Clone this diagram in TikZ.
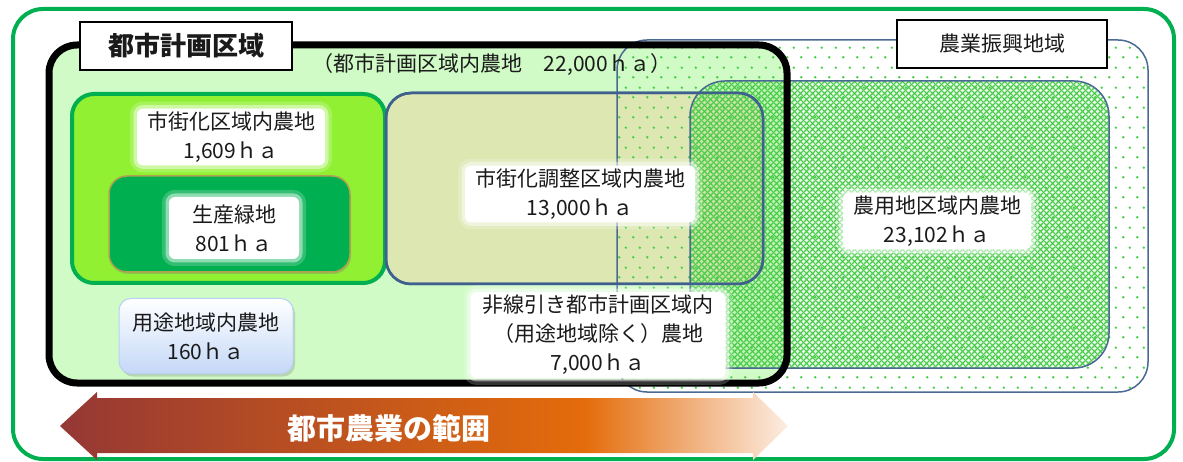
\documentclass[tikz,border=0pt]{standalone}
\usepackage{fontspec}
\setmainfont{Noto Sans CJK JP}
\usepackage{tikz}
\usetikzlibrary{patterns.meta,shadows}
\definecolor{framegreen}{HTML}{00B050}
\definecolor{citybg}{HTML}{D0FAC6}
\definecolor{urbanfill}{HTML}{92F032}
\definecolor{prodedge}{HTML}{B0A24E}
\definecolor{adjustfill}{HTML}{DCE7B2}
\definecolor{adjustedge}{HTML}{3F5F8F}
\definecolor{regionline}{HTML}{4A6A94}
\definecolor{dotgreen}{HTML}{46D046}
\definecolor{meshgreen}{HTML}{4ACC4A}
\definecolor{zonetop}{HTML}{FFFFFF}
\definecolor{zonebottom}{HTML}{C4D8F8}
\definecolor{zoneedge}{HTML}{B8D2F4}
\definecolor{inkgray}{HTML}{1A1A1A}
\definecolor{scopered}{HTML}{953735}
\definecolor{scopeorange}{HTML}{E46C0A}
\definecolor{scopefade}{HTML}{FCEDE2}

\pgfdeclarehorizontalshading{scopeshade}{100bp}{color(0bp)=(scopered); color(25bp)=(scopered);
  color(61bp)=(scopeorange); color(75bp)=(scopefade); color(100bp)=(scopefade)}

\tikzdeclarepattern{
  name=farmdots, type=uncolored,
  bounding box={(0pt,0pt) and (14pt,20pt)},
  tile size={(14pt,20pt)},
  code={
    \pgfpathcircle{\pgfpoint{3.5pt}{5pt}}{1.4pt}
    \pgfpathcircle{\pgfpoint{10.5pt}{15pt}}{1.4pt}
    \pgfusepath{fill}
  }
}
\tikzdeclarepattern{
  name=farmmesh, type=uncolored,
  bounding box={(0pt,0pt) and (6pt,6pt)},
  tile size={(6pt,6pt)},
  code={
    \pgfsetlinewidth{1.3pt}
    \pgfpathmoveto{\pgfpoint{-1pt}{-1pt}}\pgfpathlineto{\pgfpoint{7pt}{7pt}}
    \pgfpathmoveto{\pgfpoint{-1pt}{7pt}}\pgfpathlineto{\pgfpoint{7pt}{-1pt}}
    \pgfusepath{stroke}
  }
}

\begin{document}
\begin{tikzpicture}[x=1pt, y=-1pt,
  lbl/.style={font=\fontsize{21}{29}\selectfont, text=inkgray, align=center},
  glow/.style={lbl, fill=white, rounded corners=6pt, inner xsep=10pt, inner ysep=3pt,
               preaction={draw=white, line width=14pt, draw opacity=0.2},
               preaction={draw=white, line width=7pt, draw opacity=0.45}},
  tag/.style={draw=black, fill=white, inner sep=0pt, text=inkgray},
]
\useasboundingbox (0,0) rectangle (1183,462);

% outer frame
\draw[framegreen, line width=4pt, rounded corners=30pt] (13,9) rectangle (1174,459);

% city planning area and the zones inside it
\fill[citybg, rounded corners=28pt] (49,45) rectangle (787,383);
\draw[framegreen, fill=urbanfill, line width=4pt, rounded corners=22pt] (72,94) rectangle (385,283);
\draw[prodedge, fill=framegreen, line width=1.5pt, rounded corners=18pt,
      drop shadow={opacity=0.35, shadow xshift=1pt, shadow yshift=-2pt}] (109,176) rectangle (350,272);
\draw[adjustedge, fill=adjustfill, line width=2.5pt, rounded corners=25pt] (386,93) rectangle (763,284);

% agricultural promotion area and farmland area
\draw[regionline, line width=1.5pt, rounded corners=30pt, pattern=farmdots, pattern color=dotgreen]
  (617,40) rectangle (1148,392);
\fill[meshgreen, fill opacity=0.12, rounded corners=35pt] (690,81) rectangle (1109,368);
\draw[regionline, line width=1.5pt, rounded corners=35pt, pattern=farmmesh, pattern color=meshgreen]
  (690,81) rectangle (1109,368);
\draw[adjustedge, line width=2.5pt, rounded corners=25pt] (386,93) rectangle (763,284);
\draw[black, line width=7pt, rounded corners=28pt] (49,45) rectangle (787,383);

% labels
\node[tag, line width=2pt, minimum width=212pt, minimum height=48pt,
      font=\bfseries\fontsize{26}{30}\selectfont] (citytag) at (186,46) {都市計画区域};
\node[tag, line width=1.2pt, minimum width=210pt, minimum height=48pt,
      font=\fontsize{21}{26}\selectfont] (promotag) at (1002,44) {農業振興地域};
\node[lbl] (citytotal) at (492,65) {（都市計画区域内農地　22,000ｈａ）};
\node[glow] (urbanlbl) at (231,137) {市街化区域内農地\\1,609ｈａ};
\node[glow, minimum width=130pt, minimum height=62pt] (prodlbl) at (234,228) {生産緑地\\801ｈａ};
\node[lbl, draw=zoneedge, line width=1pt, top color=zonetop, bottom color=zonebottom,
      rounded corners=12pt, minimum width=174pt, minimum height=75pt,
      drop shadow={opacity=0.3, shadow xshift=2pt, shadow yshift=-3pt}] (uselbl) at (206,336)
      {用途地域内農地\\160ｈａ};
\node[glow] (adjustlbl) at (580,194) {市街化調整区域内農地\\13,000ｈａ};
\node[glow, inner xsep=12pt] (unzonedlbl) at (598,335)
      {非線引き都市計画区域内\\（用途地域除く）農地\\7,000ｈａ};
\node[glow] (farmlbl) at (937,221) {農用地区域内農地\\23,102ｈａ};

% scope of urban agriculture
\shade[shading=scopeshade] (60,426) -- (97,392) -- (97,398) -- (753,398) -- (753,392)
  -- (788,426) -- (753,460) -- (753,453) -- (97,453) -- (97,460) -- cycle;
\node[font=\bfseries\fontsize{29}{32}\selectfont, text=white] (scopelbl) at (389,428) {都市農業の範囲};
\end{tikzpicture}
\end{document}
